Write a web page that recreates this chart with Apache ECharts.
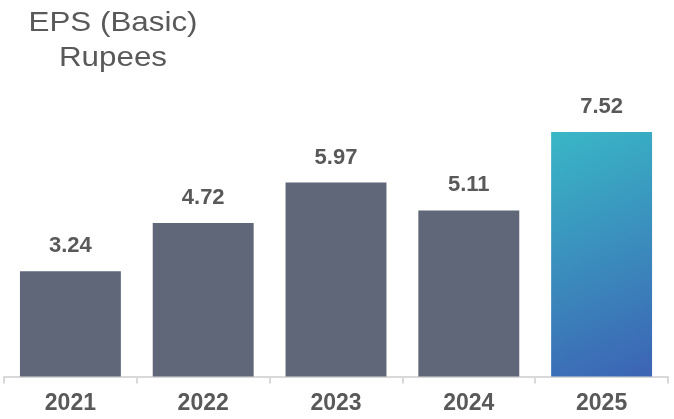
<!DOCTYPE html>
<html>
<head>
<meta charset="utf-8">
<script src="https://cdn.jsdelivr.net/npm/echarts@6/dist/echarts.min.js"></script>
<style>
  html, body { margin: 0; padding: 0; background: #ffffff; }
  #chart { width: 674px; height: 419px; }
</style>
</head>
<body>
<div id="chart"></div>
<script>
// Earnings per share (basic), in rupees, by financial year
const years = ['2021', '2022', '2023', '2024', '2025'];
const eps = [3.24, 4.72, 5.97, 5.11, 7.52];
const titleLines = ['EPS (Basic)', 'Rupees'];

const textGrey = '#595959';
const barGrey = '#5f6779';
const latestFill = new echarts.graphic.LinearGradient(0, 0, 1, 1, [
  { offset: 0, color: '#39b7c6' },
  { offset: 1, color: '#3c63b4' }
]);

const barData = eps.map((v, i) => ({
  value: v,
  itemStyle: { color: i === eps.length - 1 ? latestFill : barGrey }
}));

const chart = echarts.init(document.getElementById('chart'), null, { renderer: 'canvas' });
chart.setOption({
  animation: false,
  backgroundColor: '#ffffff',
  graphic: titleLines.map((t, i) => ({
    type: 'text',
    x: 113,
    y: 23 + i * 35.5,
    scaleX: 1.12,
    style: {
      text: t,
      fill: textGrey,
      font: '28px "Liberation Sans", Arial, sans-serif',
      textAlign: 'center',
      textVerticalAlign: 'middle'
    }
  })),
  grid: { left: 4, right: 6, top: 116.5, bottom: 42.5, containLabel: false },
  xAxis: {
    type: 'category',
    data: years,
    boundaryGap: true,
    axisLine: { lineStyle: { color: '#d9d9d9', width: 2 } },
    axisTick: { show: true, length: 7, lineStyle: { color: '#d9d9d9', width: 2 } },
    axisLabel: {
      color: textGrey,
      fontFamily: '"Liberation Sans", Arial, sans-serif',
      fontWeight: 'bold',
      fontSize: 23,
      margin: 16
    }
  },
  yAxis: {
    type: 'value',
    min: 0,
    max: 8,
    show: false,
    splitLine: { show: false }
  },
  series: [{
    type: 'bar',
    data: barData,
    barWidth: '76%',
    label: {
      show: true,
      position: 'top',
      distance: 14,
      color: textGrey,
      fontFamily: '"Liberation Sans", Arial, sans-serif',
      fontWeight: 'bold',
      fontSize: 22,
      formatter: p => p.value.toFixed(2)
    }
  }]
});
</script>
</body>
</html>
